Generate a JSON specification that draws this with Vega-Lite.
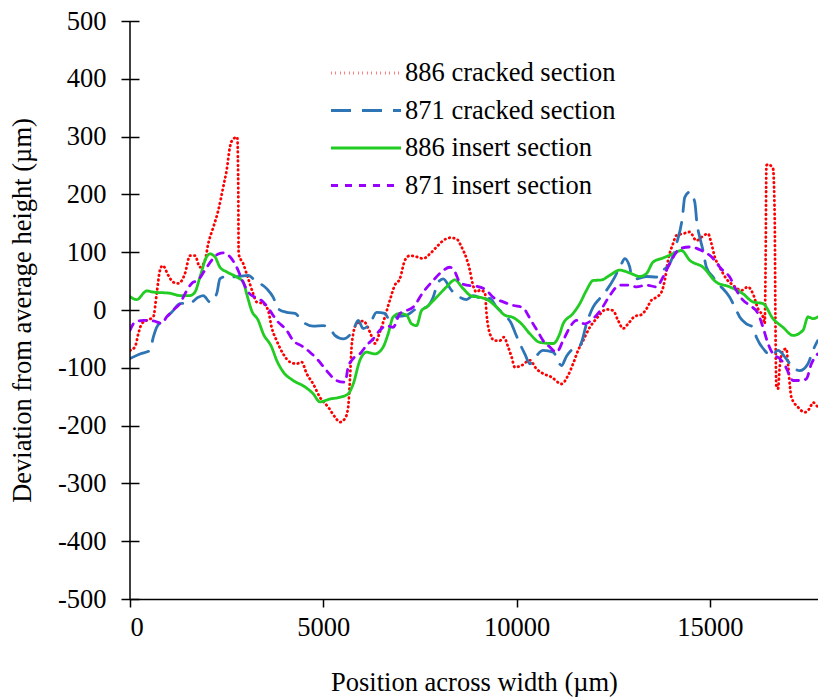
{
"$schema": "https://vega.github.io/schema/vega-lite/v6.json",
"width": 688, "height": 578,
"autosize": {"type": "none"},
"padding": {"left": 130, "top": 21, "right": 0, "bottom": 98},
"background": "white",
"config": {"font": "Liberation Serif", "view": {"stroke": null},
 "axis": {"labelFont": "Liberation Serif", "titleFont": "Liberation Serif"},
 "legend": {"labelFont": "Liberation Serif"}},
"datasets": {
"main": [
{"s":"886 cracked section","x":0,"y":-70},{"s":"886 cracked section","x":129,"y":-64},{"s":"886 cracked section","x":215,"y":-41},{"s":"886 cracked section","x":303,"y":-24},{"s":"886 cracked section","x":432,"y":-18},{"s":"886 cracked section","x":603,"y":-12},{"s":"886 cracked section","x":690,"y":28},{"s":"886 cracked section","x":776,"y":69},{"s":"886 cracked section","x":846,"y":77},{"s":"886 cracked section","x":990,"y":60},{"s":"886 cracked section","x":1120,"y":48},{"s":"886 cracked section","x":1249,"y":46},{"s":"886 cracked section","x":1422,"y":63},{"s":"886 cracked section","x":1552,"y":94},{"s":"886 cracked section","x":1681,"y":94},{"s":"886 cracked section","x":1810,"y":74},{"s":"886 cracked section","x":1940,"y":86},{"s":"886 cracked section","x":2025,"y":115},{"s":"886 cracked section","x":2154,"y":143},{"s":"886 cracked section","x":2283,"y":172},{"s":"886 cracked section","x":2413,"y":213},{"s":"886 cracked section","x":2501,"y":242},{"s":"886 cracked section","x":2586,"y":282},{"s":"886 cracked section","x":2671,"y":296},{"s":"886 cracked section","x":2775,"y":299},{"s":"886 cracked section","x":2801,"y":213},{"s":"886 cracked section","x":2811,"y":97},{"s":"886 cracked section","x":2930,"y":80},{"s":"886 cracked section","x":3059,"y":54},{"s":"886 cracked section","x":3189,"y":28},{"s":"886 cracked section","x":3276,"y":14},{"s":"886 cracked section","x":3447,"y":11},{"s":"886 cracked section","x":3576,"y":-1},{"s":"886 cracked section","x":3664,"y":-30},{"s":"886 cracked section","x":3794,"y":-53},{"s":"886 cracked section","x":3964,"y":-76},{"s":"886 cracked section","x":4138,"y":-90},{"s":"886 cracked section","x":4311,"y":-93},{"s":"886 cracked section","x":4440,"y":-90},{"s":"886 cracked section","x":4570,"y":-110},{"s":"886 cracked section","x":4740,"y":-128},{"s":"886 cracked section","x":4913,"y":-151},{"s":"886 cracked section","x":5128,"y":-168},{"s":"886 cracked section","x":5301,"y":-185},{"s":"886 cracked section","x":5431,"y":-194},{"s":"886 cracked section","x":5560,"y":-188},{"s":"886 cracked section","x":5645,"y":-168},{"s":"886 cracked section","x":5689,"y":-122},{"s":"886 cracked section","x":5733,"y":-64},{"s":"886 cracked section","x":5775,"y":-41},{"s":"886 cracked section","x":5862,"y":-24},{"s":"886 cracked section","x":6033,"y":-19},{"s":"886 cracked section","x":6206,"y":-38},{"s":"886 cracked section","x":6336,"y":-58},{"s":"886 cracked section","x":6465,"y":-38},{"s":"886 cracked section","x":6594,"y":-12},{"s":"886 cracked section","x":6724,"y":17},{"s":"886 cracked section","x":6853,"y":43},{"s":"886 cracked section","x":6982,"y":54},{"s":"886 cracked section","x":7112,"y":86},{"s":"886 cracked section","x":7241,"y":94},{"s":"886 cracked section","x":7414,"y":92},{"s":"886 cracked section","x":7585,"y":89},{"s":"886 cracked section","x":7758,"y":97},{"s":"886 cracked section","x":7931,"y":109},{"s":"886 cracked section","x":8102,"y":120},{"s":"886 cracked section","x":8275,"y":125},{"s":"886 cracked section","x":8448,"y":123},{"s":"886 cracked section","x":8578,"y":109},{"s":"886 cracked section","x":8707,"y":89},{"s":"886 cracked section","x":8792,"y":69},{"s":"886 cracked section","x":8862,"y":46},{"s":"886 cracked section","x":8966,"y":31},{"s":"886 cracked section","x":9051,"y":34},{"s":"886 cracked section","x":9180,"y":31},{"s":"886 cracked section","x":9224,"y":-6},{"s":"886 cracked section","x":9310,"y":-41},{"s":"886 cracked section","x":9439,"y":-53},{"s":"886 cracked section","x":9568,"y":-53},{"s":"886 cracked section","x":9672,"y":-47},{"s":"886 cracked section","x":9783,"y":-64},{"s":"886 cracked section","x":9871,"y":-81},{"s":"886 cracked section","x":9956,"y":-99},{"s":"886 cracked section","x":10129,"y":-96},{"s":"886 cracked section","x":10344,"y":-87},{"s":"886 cracked section","x":10517,"y":-102},{"s":"886 cracked section","x":10688,"y":-110},{"s":"886 cracked section","x":10905,"y":-116},{"s":"886 cracked section","x":11164,"y":-128},{"s":"886 cracked section","x":11335,"y":-113},{"s":"886 cracked section","x":11464,"y":-93},{"s":"886 cracked section","x":11593,"y":-70},{"s":"886 cracked section","x":11722,"y":-53},{"s":"886 cracked section","x":11895,"y":-30},{"s":"886 cracked section","x":12068,"y":-15},{"s":"886 cracked section","x":12327,"y":1},{"s":"886 cracked section","x":12498,"y":-1},{"s":"886 cracked section","x":12627,"y":-18},{"s":"886 cracked section","x":12757,"y":-32},{"s":"886 cracked section","x":12886,"y":-24},{"s":"886 cracked section","x":13059,"y":-11},{"s":"886 cracked section","x":13232,"y":-8},{"s":"886 cracked section","x":13362,"y":2},{"s":"886 cracked section","x":13491,"y":17},{"s":"886 cracked section","x":13620,"y":22},{"s":"886 cracked section","x":13750,"y":31},{"s":"886 cracked section","x":13835,"y":51},{"s":"886 cracked section","x":13921,"y":86},{"s":"886 cracked section","x":14050,"y":115},{"s":"886 cracked section","x":14137,"y":129},{"s":"886 cracked section","x":14308,"y":132},{"s":"886 cracked section","x":14482,"y":135},{"s":"886 cracked section","x":14655,"y":120},{"s":"886 cracked section","x":14784,"y":126},{"s":"886 cracked section","x":14955,"y":132},{"s":"886 cracked section","x":15042,"y":115},{"s":"886 cracked section","x":15128,"y":92},{"s":"886 cracked section","x":15257,"y":74},{"s":"886 cracked section","x":15430,"y":54},{"s":"886 cracked section","x":15601,"y":43},{"s":"886 cracked section","x":15818,"y":34},{"s":"886 cracked section","x":15989,"y":40},{"s":"886 cracked section","x":16118,"y":28},{"s":"886 cracked section","x":16248,"y":2},{"s":"886 cracked section","x":16377,"y":-12},{"s":"886 cracked section","x":16421,"y":-24},{"s":"886 cracked section","x":16447,"y":100},{"s":"886 cracked section","x":16465,"y":250},{"s":"886 cracked section","x":16506,"y":252},{"s":"886 cracked section","x":16636,"y":245},{"s":"886 cracked section","x":16680,"y":161},{"s":"886 cracked section","x":16698,"y":-12},{"s":"886 cracked section","x":16724,"y":-133},{"s":"886 cracked section","x":16766,"y":-136},{"s":"886 cracked section","x":16809,"y":-99},{"s":"886 cracked section","x":16895,"y":-70},{"s":"886 cracked section","x":16982,"y":-67},{"s":"886 cracked section","x":17024,"y":-93},{"s":"886 cracked section","x":17068,"y":-128},{"s":"886 cracked section","x":17111,"y":-151},{"s":"886 cracked section","x":17282,"y":-168},{"s":"886 cracked section","x":17455,"y":-177},{"s":"886 cracked section","x":17585,"y":-170},{"s":"886 cracked section","x":17670,"y":-160},{"s":"886 cracked section","x":17792,"y":-168},
{"s":"871 cracked section","x":0,"y":-84},{"s":"871 cracked section","x":259,"y":-76},{"s":"871 cracked section","x":517,"y":-70},{"s":"871 cracked section","x":603,"y":-47},{"s":"871 cracked section","x":690,"y":-30},{"s":"871 cracked section","x":861,"y":-18},{"s":"871 cracked section","x":1078,"y":-4},{"s":"871 cracked section","x":1293,"y":11},{"s":"871 cracked section","x":1552,"y":12},{"s":"871 cracked section","x":1766,"y":22},{"s":"871 cracked section","x":1896,"y":25},{"s":"871 cracked section","x":2069,"y":14},{"s":"871 cracked section","x":2242,"y":28},{"s":"871 cracked section","x":2327,"y":54},{"s":"871 cracked section","x":2413,"y":57},{"s":"871 cracked section","x":2586,"y":57},{"s":"871 cracked section","x":2845,"y":58},{"s":"871 cracked section","x":3059,"y":60},{"s":"871 cracked section","x":3233,"y":51},{"s":"871 cracked section","x":3535,"y":37},{"s":"871 cracked section","x":3706,"y":22},{"s":"871 cracked section","x":3835,"y":2},{"s":"871 cracked section","x":4052,"y":-4},{"s":"871 cracked section","x":4267,"y":-6},{"s":"871 cracked section","x":4482,"y":-21},{"s":"871 cracked section","x":4740,"y":-28},{"s":"871 cracked section","x":4999,"y":-27},{"s":"871 cracked section","x":5172,"y":-32},{"s":"871 cracked section","x":5301,"y":-44},{"s":"871 cracked section","x":5516,"y":-50},{"s":"871 cracked section","x":5775,"y":-35},{"s":"871 cracked section","x":5904,"y":-18},{"s":"871 cracked section","x":6033,"y":-32},{"s":"871 cracked section","x":6206,"y":-24},{"s":"871 cracked section","x":6380,"y":-4},{"s":"871 cracked section","x":6594,"y":-6},{"s":"871 cracked section","x":6724,"y":-18},{"s":"871 cracked section","x":6897,"y":-12},{"s":"871 cracked section","x":7155,"y":-9},{"s":"871 cracked section","x":7414,"y":2},{"s":"871 cracked section","x":7673,"y":5},{"s":"871 cracked section","x":7843,"y":22},{"s":"871 cracked section","x":7973,"y":48},{"s":"871 cracked section","x":8102,"y":54},{"s":"871 cracked section","x":8319,"y":34},{"s":"871 cracked section","x":8534,"y":22},{"s":"871 cracked section","x":8707,"y":18},{"s":"871 cracked section","x":8878,"y":25},{"s":"871 cracked section","x":9051,"y":20},{"s":"871 cracked section","x":9136,"y":14},{"s":"871 cracked section","x":9310,"y":20},{"s":"871 cracked section","x":9483,"y":5},{"s":"871 cracked section","x":9698,"y":-9},{"s":"871 cracked section","x":9871,"y":-24},{"s":"871 cracked section","x":9956,"y":-38},{"s":"871 cracked section","x":10085,"y":-58},{"s":"871 cracked section","x":10215,"y":-76},{"s":"871 cracked section","x":10344,"y":-93},{"s":"871 cracked section","x":10517,"y":-79},{"s":"871 cracked section","x":10688,"y":-70},{"s":"871 cracked section","x":10947,"y":-73},{"s":"871 cracked section","x":11164,"y":-96},{"s":"871 cracked section","x":11293,"y":-80},{"s":"871 cracked section","x":11464,"y":-67},{"s":"871 cracked section","x":11637,"y":-62},{"s":"871 cracked section","x":11681,"y":-56},{"s":"871 cracked section","x":11810,"y":-24},{"s":"871 cracked section","x":11981,"y":5},{"s":"871 cracked section","x":12154,"y":20},{"s":"871 cracked section","x":12327,"y":34},{"s":"871 cracked section","x":12542,"y":57},{"s":"871 cracked section","x":12715,"y":80},{"s":"871 cracked section","x":12801,"y":89},{"s":"871 cracked section","x":12930,"y":74},{"s":"871 cracked section","x":12974,"y":60},{"s":"871 cracked section","x":13103,"y":54},{"s":"871 cracked section","x":13362,"y":58},{"s":"871 cracked section","x":13620,"y":57},{"s":"871 cracked section","x":13792,"y":69},{"s":"871 cracked section","x":13964,"y":80},{"s":"871 cracked section","x":14137,"y":114},{"s":"871 cracked section","x":14293,"y":161},{"s":"871 cracked section","x":14352,"y":195},{"s":"871 cracked section","x":14482,"y":204},{"s":"871 cracked section","x":14611,"y":187},{"s":"871 cracked section","x":14670,"y":149},{"s":"871 cracked section","x":14740,"y":126},{"s":"871 cracked section","x":14825,"y":103},{"s":"871 cracked section","x":14913,"y":74},{"s":"871 cracked section","x":15084,"y":57},{"s":"871 cracked section","x":15257,"y":43},{"s":"871 cracked section","x":15516,"y":22},{"s":"871 cracked section","x":15689,"y":-1},{"s":"871 cracked section","x":15774,"y":-12},{"s":"871 cracked section","x":15947,"y":-24},{"s":"871 cracked section","x":16118,"y":-30},{"s":"871 cracked section","x":16206,"y":-47},{"s":"871 cracked section","x":16421,"y":-70},{"s":"871 cracked section","x":16594,"y":-79},{"s":"871 cracked section","x":16766,"y":-70},{"s":"871 cracked section","x":16939,"y":-81},{"s":"871 cracked section","x":17111,"y":-96},{"s":"871 cracked section","x":17326,"y":-105},{"s":"871 cracked section","x":17541,"y":-93},{"s":"871 cracked section","x":17670,"y":-70},{"s":"871 cracked section","x":17792,"y":-53},
{"s":"886 insert section","x":0,"y":23},{"s":"886 insert section","x":173,"y":18},{"s":"886 insert section","x":432,"y":33},{"s":"886 insert section","x":603,"y":31},{"s":"886 insert section","x":1034,"y":29},{"s":"886 insert section","x":1293,"y":25},{"s":"886 insert section","x":1552,"y":25},{"s":"886 insert section","x":1681,"y":31},{"s":"886 insert section","x":1810,"y":57},{"s":"886 insert section","x":1983,"y":92},{"s":"886 insert section","x":2069,"y":97},{"s":"886 insert section","x":2198,"y":92},{"s":"886 insert section","x":2327,"y":74},{"s":"886 insert section","x":2501,"y":66},{"s":"886 insert section","x":2759,"y":57},{"s":"886 insert section","x":2930,"y":48},{"s":"886 insert section","x":3018,"y":28},{"s":"886 insert section","x":3147,"y":-1},{"s":"886 insert section","x":3318,"y":-18},{"s":"886 insert section","x":3447,"y":-41},{"s":"886 insert section","x":3664,"y":-64},{"s":"886 insert section","x":3794,"y":-87},{"s":"886 insert section","x":3964,"y":-107},{"s":"886 insert section","x":4223,"y":-122},{"s":"886 insert section","x":4526,"y":-133},{"s":"886 insert section","x":4740,"y":-145},{"s":"886 insert section","x":4913,"y":-159},{"s":"886 insert section","x":5172,"y":-154},{"s":"886 insert section","x":5431,"y":-151},{"s":"886 insert section","x":5645,"y":-145},{"s":"886 insert section","x":5775,"y":-128},{"s":"886 insert section","x":5948,"y":-87},{"s":"886 insert section","x":6121,"y":-73},{"s":"886 insert section","x":6336,"y":-76},{"s":"886 insert section","x":6550,"y":-64},{"s":"886 insert section","x":6680,"y":-41},{"s":"886 insert section","x":6809,"y":-12},{"s":"886 insert section","x":6982,"y":-6},{"s":"886 insert section","x":7155,"y":-9},{"s":"886 insert section","x":7285,"y":-24},{"s":"886 insert section","x":7414,"y":-27},{"s":"886 insert section","x":7543,"y":-1},{"s":"886 insert section","x":7673,"y":5},{"s":"886 insert section","x":7931,"y":22},{"s":"886 insert section","x":8190,"y":40},{"s":"886 insert section","x":8405,"y":52},{"s":"886 insert section","x":8619,"y":37},{"s":"886 insert section","x":8836,"y":24},{"s":"886 insert section","x":9051,"y":22},{"s":"886 insert section","x":9266,"y":17},{"s":"886 insert section","x":9483,"y":5},{"s":"886 insert section","x":9698,"y":-9},{"s":"886 insert section","x":9912,"y":-13},{"s":"886 insert section","x":10129,"y":-24},{"s":"886 insert section","x":10344,"y":-41},{"s":"886 insert section","x":10602,"y":-56},{"s":"886 insert section","x":10947,"y":-58},{"s":"886 insert section","x":11120,"y":-41},{"s":"886 insert section","x":11205,"y":-24},{"s":"886 insert section","x":11464,"y":-6},{"s":"886 insert section","x":11637,"y":11},{"s":"886 insert section","x":11810,"y":34},{"s":"886 insert section","x":11981,"y":51},{"s":"886 insert section","x":12198,"y":52},{"s":"886 insert section","x":12413,"y":60},{"s":"886 insert section","x":12671,"y":69},{"s":"886 insert section","x":12930,"y":64},{"s":"886 insert section","x":13189,"y":58},{"s":"886 insert section","x":13362,"y":63},{"s":"886 insert section","x":13533,"y":83},{"s":"886 insert section","x":13792,"y":90},{"s":"886 insert section","x":14050,"y":97},{"s":"886 insert section","x":14267,"y":103},{"s":"886 insert section","x":14482,"y":86},{"s":"886 insert section","x":14825,"y":74},{"s":"886 insert section","x":15172,"y":48},{"s":"886 insert section","x":15516,"y":40},{"s":"886 insert section","x":15860,"y":28},{"s":"886 insert section","x":16118,"y":14},{"s":"886 insert section","x":16377,"y":11},{"s":"886 insert section","x":16636,"y":-15},{"s":"886 insert section","x":16895,"y":-30},{"s":"886 insert section","x":17153,"y":-44},{"s":"886 insert section","x":17412,"y":-35},{"s":"886 insert section","x":17541,"y":-12},{"s":"886 insert section","x":17670,"y":-15},{"s":"886 insert section","x":17792,"y":-12},
{"s":"871 insert section","x":0,"y":-35},{"s":"871 insert section","x":129,"y":-21},{"s":"871 insert section","x":344,"y":-18},{"s":"871 insert section","x":603,"y":-19},{"s":"871 insert section","x":820,"y":-23},{"s":"871 insert section","x":949,"y":-12},{"s":"871 insert section","x":1120,"y":0},{"s":"871 insert section","x":1293,"y":11},{"s":"871 insert section","x":1422,"y":28},{"s":"871 insert section","x":1596,"y":46},{"s":"871 insert section","x":1766,"y":52},{"s":"871 insert section","x":1940,"y":69},{"s":"871 insert section","x":2112,"y":86},{"s":"871 insert section","x":2283,"y":97},{"s":"871 insert section","x":2413,"y":99},{"s":"871 insert section","x":2586,"y":92},{"s":"871 insert section","x":2759,"y":74},{"s":"871 insert section","x":2889,"y":54},{"s":"871 insert section","x":3059,"y":31},{"s":"871 insert section","x":3233,"y":22},{"s":"871 insert section","x":3447,"y":14},{"s":"871 insert section","x":3620,"y":-1},{"s":"871 insert section","x":3794,"y":-18},{"s":"871 insert section","x":4052,"y":-35},{"s":"871 insert section","x":4223,"y":-53},{"s":"871 insert section","x":4440,"y":-62},{"s":"871 insert section","x":4655,"y":-73},{"s":"871 insert section","x":4869,"y":-87},{"s":"871 insert section","x":5087,"y":-105},{"s":"871 insert section","x":5345,"y":-122},{"s":"871 insert section","x":5560,"y":-125},{"s":"871 insert section","x":5645,"y":-99},{"s":"871 insert section","x":5775,"y":-84},{"s":"871 insert section","x":5948,"y":-76},{"s":"871 insert section","x":6121,"y":-61},{"s":"871 insert section","x":6292,"y":-50},{"s":"871 insert section","x":6465,"y":-35},{"s":"871 insert section","x":6638,"y":-27},{"s":"871 insert section","x":6809,"y":-30},{"s":"871 insert section","x":6982,"y":-6},{"s":"871 insert section","x":7155,"y":-1},{"s":"871 insert section","x":7327,"y":5},{"s":"871 insert section","x":7585,"y":31},{"s":"871 insert section","x":7843,"y":51},{"s":"871 insert section","x":8061,"y":66},{"s":"871 insert section","x":8275,"y":74},{"s":"871 insert section","x":8405,"y":66},{"s":"871 insert section","x":8534,"y":48},{"s":"871 insert section","x":8707,"y":43},{"s":"871 insert section","x":8966,"y":41},{"s":"871 insert section","x":9224,"y":34},{"s":"871 insert section","x":9395,"y":22},{"s":"871 insert section","x":9654,"y":14},{"s":"871 insert section","x":9912,"y":8},{"s":"871 insert section","x":10171,"y":4},{"s":"871 insert section","x":10300,"y":-9},{"s":"871 insert section","x":10429,"y":-24},{"s":"871 insert section","x":10558,"y":-38},{"s":"871 insert section","x":10688,"y":-53},{"s":"871 insert section","x":10861,"y":-64},{"s":"871 insert section","x":11034,"y":-73},{"s":"871 insert section","x":11205,"y":-53},{"s":"871 insert section","x":11378,"y":-30},{"s":"871 insert section","x":11551,"y":-18},{"s":"871 insert section","x":11766,"y":-24},{"s":"871 insert section","x":11981,"y":-15},{"s":"871 insert section","x":12198,"y":2},{"s":"871 insert section","x":12413,"y":25},{"s":"871 insert section","x":12671,"y":43},{"s":"871 insert section","x":12886,"y":43},{"s":"871 insert section","x":13103,"y":40},{"s":"871 insert section","x":13362,"y":43},{"s":"871 insert section","x":13620,"y":40},{"s":"871 insert section","x":13792,"y":57},{"s":"871 insert section","x":14008,"y":86},{"s":"871 insert section","x":14223,"y":106},{"s":"871 insert section","x":14482,"y":109},{"s":"871 insert section","x":14784,"y":103},{"s":"871 insert section","x":15042,"y":92},{"s":"871 insert section","x":15301,"y":71},{"s":"871 insert section","x":15516,"y":57},{"s":"871 insert section","x":15689,"y":34},{"s":"871 insert section","x":15860,"y":17},{"s":"871 insert section","x":16033,"y":8},{"s":"871 insert section","x":16248,"y":-6},{"s":"871 insert section","x":16377,"y":-30},{"s":"871 insert section","x":16506,"y":-58},{"s":"871 insert section","x":16636,"y":-76},{"s":"871 insert section","x":16809,"y":-84},{"s":"871 insert section","x":16939,"y":-95},{"s":"871 insert section","x":17024,"y":-107},{"s":"871 insert section","x":17153,"y":-122},{"s":"871 insert section","x":17370,"y":-122},{"s":"871 insert section","x":17499,"y":-119},{"s":"871 insert section","x":17629,"y":-93},{"s":"871 insert section","x":17792,"y":-76}
],
"axisline": [{"x": 0}]
},
"layer": [
{
"data": {"name": "main"},
"mark": {"type": "line", "strokeWidth": 2.8, "strokeCap": "round", "strokeJoin": "round", "clip": true, "interpolate": "monotone"},
"encoding": {
"x": {"field": "x", "type": "quantitative", "scale": {"domain": [0, 17800], "nice": false, "zero": false},
 "axis": {"values": [0, 5000, 10000, 15000], "labelExpr": "'' + datum.value", "title": "Position across width (µm)", "grid": false,
  "domainColor": "black", "domainWidth": 1.5, "tickColor": "black", "tickWidth": 1.5, "tickSize": 8,
  "labelFont": "Liberation Serif", "labelFontSize": 26.5, "labelColor": "black", "labelPadding": 7,
  "titleFont": "Liberation Serif", "titleFontSize": 26.5, "titleFontWeight": "normal", "titleColor": "black", "titlePadding": 29}},
"y": {"field": "y", "type": "quantitative", "scale": {"domain": [-500, 500], "nice": false},
 "axis": {"values": [-500, -400, -300, -200, -100, 0, 100, 200, 300, 400, 500], "labelExpr": "'' + datum.value", "title": "Deviation from average height (µm)", "grid": false,
  "domain": false, "offset": -9, "tickColor": "black", "tickWidth": 1.5, "tickSize": 18,
  "labelFont": "Liberation Serif", "labelFontSize": 26.5, "labelColor": "black", "labelPadding": 15,
  "titleFont": "Liberation Serif", "titleFontSize": 26.5, "titleFontWeight": "normal", "titleColor": "black", "titlePadding": 21}},
"color": {"field": "s", "type": "nominal", "sort": null,
 "scale": {"domain": ["886 cracked section", "871 cracked section", "886 insert section", "871 insert section"], "range": ["#FF0000", "#2E75B6", "#22CC22", "#9900FF"]},
 "legend": {"title": null, "orient": "none", "legendX": 217, "legendY": 33, "symbolType": "M-2,0H2", "symbolSize": 1225, "symbolStrokeWidth": 3, "symbolFillColor": "transparent",
  "rowPadding": 4.5, "labelOffset": 20, "padding": 0, "labelFont": "Liberation Serif", "labelFontSize": 26.5, "labelColor": "black", "labelLimit": 400}},
"strokeDash": {"field": "s", "type": "nominal", "sort": null,
 "scale": {"domain": ["886 cracked section", "871 cracked section", "886 insert section", "871 insert section"], "range": [[0.5, 4], [20, 11], [1, 0], [7, 7]]},
 "legend": {"title": null, "orient": "none", "legendX": 217, "legendY": 33, "symbolType": "M-2,0H2", "symbolSize": 1225, "symbolStrokeWidth": 3, "symbolFillColor": "transparent",
  "rowPadding": 4.5, "labelOffset": 20, "padding": 0, "labelFont": "Liberation Serif", "labelFontSize": 26.5, "labelColor": "black", "labelLimit": 400}}
}
},
{
"data": {"name": "axisline"},
"mark": {"type": "rule", "color": "black", "strokeWidth": 1.5},
"encoding": {"x": {"field": "x", "type": "quantitative"}}
}
]
}
